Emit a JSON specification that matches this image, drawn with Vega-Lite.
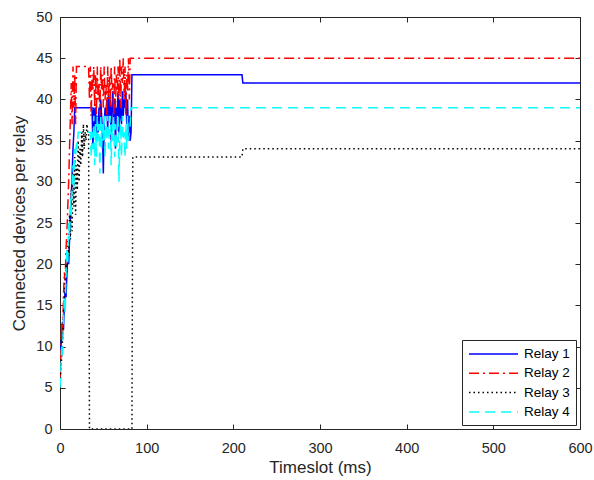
{
  "$schema": "https://vega.github.io/schema/vega-lite/v6.json",
  "width": 520,
  "height": 412,
  "autosize": {"type": "none"},
  "padding": {"left": 60, "top": 17, "right": 14, "bottom": 51},
  "background": "white",
  "config": {
    "font": "Liberation Sans",
    "view": {"stroke": "#262626", "strokeWidth": 1},
    "axis": {
      "grid": false,
      "domainColor": "#262626",
      "tickColor": "#262626",
      "labelColor": "#262626",
      "titleColor": "#262626",
      "labelFont": "Liberation Sans",
      "titleFont": "Liberation Sans",
      "labelFontSize": 14.5,
      "titleFontSize": 17,
      "titleFontWeight": "normal",
      "tickSize": -5
    }
  },
  "data": {"values": [
    {"t":0,"v":9,"r":"Relay 1"},{"t":1,"v":10,"r":"Relay 1"},{"t":2,"v":11,"r":"Relay 1"},{"t":3,"v":13,"r":"Relay 1"},{"t":4,"v":12,"r":"Relay 1"},{"t":5,"v":15,"r":"Relay 1"},{"t":6,"v":17,"r":"Relay 1"},{"t":7,"v":16,"r":"Relay 1"},{"t":8,"v":19,"r":"Relay 1"},{"t":9,"v":21,"r":"Relay 1"},{"t":10,"v":20,"r":"Relay 1"},{"t":11,"v":23,"r":"Relay 1"},{"t":12,"v":26,"r":"Relay 1"},{"t":13,"v":28,"r":"Relay 1"},{"t":14,"v":31,"r":"Relay 1"},{"t":15,"v":34,"r":"Relay 1"},{"t":16,"v":36,"r":"Relay 1"},{"t":17,"v":39,"r":"Relay 1"},{"t":37,"v":39,"r":"Relay 1"},{"t":38,"v":34,"r":"Relay 1"},{"t":39,"v":39,"r":"Relay 1"},{"t":40,"v":36,"r":"Relay 1"},{"t":41,"v":39,"r":"Relay 1"},{"t":42,"v":35,"r":"Relay 1"},{"t":43,"v":38,"r":"Relay 1"},{"t":44,"v":36,"r":"Relay 1"},{"t":45,"v":39,"r":"Relay 1"},{"t":46,"v":37,"r":"Relay 1"},{"t":47,"v":40,"r":"Relay 1"},{"t":48,"v":38,"r":"Relay 1"},{"t":49,"v":36,"r":"Relay 1"},{"t":50,"v":31,"r":"Relay 1"},{"t":51,"v":37,"r":"Relay 1"},{"t":52,"v":39,"r":"Relay 1"},{"t":53,"v":38,"r":"Relay 1"},{"t":54,"v":40,"r":"Relay 1"},{"t":55,"v":36,"r":"Relay 1"},{"t":56,"v":41,"r":"Relay 1"},{"t":57,"v":38,"r":"Relay 1"},{"t":58,"v":40,"r":"Relay 1"},{"t":59,"v":35,"r":"Relay 1"},{"t":60,"v":39,"r":"Relay 1"},{"t":61,"v":41,"r":"Relay 1"},{"t":62,"v":37,"r":"Relay 1"},{"t":63,"v":40,"r":"Relay 1"},{"t":64,"v":34,"r":"Relay 1"},{"t":65,"v":39,"r":"Relay 1"},{"t":66,"v":38,"r":"Relay 1"},{"t":67,"v":41,"r":"Relay 1"},{"t":68,"v":36,"r":"Relay 1"},{"t":69,"v":40,"r":"Relay 1"},{"t":70,"v":38,"r":"Relay 1"},{"t":71,"v":37,"r":"Relay 1"},{"t":72,"v":41,"r":"Relay 1"},{"t":73,"v":38,"r":"Relay 1"},{"t":74,"v":40,"r":"Relay 1"},{"t":75,"v":39,"r":"Relay 1"},{"t":76,"v":41,"r":"Relay 1"},{"t":77,"v":37,"r":"Relay 1"},{"t":78,"v":40,"r":"Relay 1"},{"t":79,"v":35,"r":"Relay 1"},{"t":80,"v":38,"r":"Relay 1"},{"t":81,"v":35,"r":"Relay 1"},{"t":82,"v":36,"r":"Relay 1"},{"t":83,"v":43,"r":"Relay 1"},{"t":210,"v":43,"r":"Relay 1"},{"t":211,"v":42,"r":"Relay 1"},{"t":600,"v":42,"r":"Relay 1"},

    {"t":0,"v":6,"r":"Relay 2"},{"t":1,"v":9,"r":"Relay 2"},{"t":2,"v":13,"r":"Relay 2"},{"t":3,"v":11,"r":"Relay 2"},{"t":4,"v":16,"r":"Relay 2"},{"t":5,"v":19,"r":"Relay 2"},{"t":6,"v":18,"r":"Relay 2"},{"t":7,"v":22,"r":"Relay 2"},{"t":8,"v":24,"r":"Relay 2"},{"t":9,"v":27,"r":"Relay 2"},{"t":10,"v":30,"r":"Relay 2"},{"t":11,"v":34,"r":"Relay 2"},{"t":12,"v":38,"r":"Relay 2"},{"t":13,"v":42,"r":"Relay 2"},{"t":14,"v":37,"r":"Relay 2"},{"t":15,"v":44,"r":"Relay 2"},{"t":16,"v":39,"r":"Relay 2"},{"t":17,"v":43,"r":"Relay 2"},{"t":18,"v":37,"r":"Relay 2"},{"t":19,"v":44,"r":"Relay 2"},{"t":33,"v":44,"r":"Relay 2"},{"t":34,"v":40,"r":"Relay 2"},{"t":35,"v":44,"r":"Relay 2"},{"t":36,"v":38,"r":"Relay 2"},{"t":37,"v":43,"r":"Relay 2"},{"t":38,"v":41,"r":"Relay 2"},{"t":39,"v":44,"r":"Relay 2"},{"t":40,"v":39,"r":"Relay 2"},{"t":41,"v":43,"r":"Relay 2"},{"t":42,"v":38,"r":"Relay 2"},{"t":43,"v":44,"r":"Relay 2"},{"t":44,"v":40,"r":"Relay 2"},{"t":45,"v":42,"r":"Relay 2"},{"t":46,"v":38,"r":"Relay 2"},{"t":47,"v":44,"r":"Relay 2"},{"t":48,"v":41,"r":"Relay 2"},{"t":49,"v":43,"r":"Relay 2"},{"t":50,"v":39,"r":"Relay 2"},{"t":51,"v":44,"r":"Relay 2"},{"t":52,"v":40,"r":"Relay 2"},{"t":53,"v":42,"r":"Relay 2"},{"t":54,"v":38,"r":"Relay 2"},{"t":55,"v":44,"r":"Relay 2"},{"t":56,"v":40,"r":"Relay 2"},{"t":57,"v":43,"r":"Relay 2"},{"t":58,"v":39,"r":"Relay 2"},{"t":59,"v":44,"r":"Relay 2"},{"t":60,"v":41,"r":"Relay 2"},{"t":61,"v":42,"r":"Relay 2"},{"t":62,"v":38,"r":"Relay 2"},{"t":63,"v":44,"r":"Relay 2"},{"t":64,"v":39,"r":"Relay 2"},{"t":65,"v":43,"r":"Relay 2"},{"t":66,"v":41,"r":"Relay 2"},{"t":67,"v":44,"r":"Relay 2"},{"t":68,"v":40,"r":"Relay 2"},{"t":69,"v":45,"r":"Relay 2"},{"t":70,"v":39,"r":"Relay 2"},{"t":71,"v":44,"r":"Relay 2"},{"t":72,"v":42,"r":"Relay 2"},{"t":73,"v":45,"r":"Relay 2"},{"t":74,"v":40,"r":"Relay 2"},{"t":75,"v":44,"r":"Relay 2"},{"t":76,"v":38,"r":"Relay 2"},{"t":77,"v":43,"r":"Relay 2"},{"t":78,"v":41,"r":"Relay 2"},{"t":79,"v":45,"r":"Relay 2"},{"t":80,"v":40,"r":"Relay 2"},{"t":81,"v":45,"r":"Relay 2"},{"t":600,"v":45,"r":"Relay 2"},

    {"t":0,"v":5,"r":"Relay 3"},{"t":1,"v":7,"r":"Relay 3"},{"t":2,"v":9,"r":"Relay 3"},{"t":3,"v":11,"r":"Relay 3"},{"t":4,"v":14,"r":"Relay 3"},{"t":5,"v":16,"r":"Relay 3"},{"t":6,"v":18,"r":"Relay 3"},{"t":7,"v":20,"r":"Relay 3"},{"t":8,"v":19,"r":"Relay 3"},{"t":9,"v":23,"r":"Relay 3"},{"t":10,"v":21,"r":"Relay 3"},{"t":11,"v":26,"r":"Relay 3"},{"t":12,"v":23,"r":"Relay 3"},{"t":13,"v":29,"r":"Relay 3"},{"t":14,"v":24,"r":"Relay 3"},{"t":15,"v":31,"r":"Relay 3"},{"t":16,"v":27,"r":"Relay 3"},{"t":17,"v":33,"r":"Relay 3"},{"t":18,"v":26,"r":"Relay 3"},{"t":19,"v":32,"r":"Relay 3"},{"t":20,"v":29,"r":"Relay 3"},{"t":21,"v":35,"r":"Relay 3"},{"t":22,"v":30,"r":"Relay 3"},{"t":23,"v":34,"r":"Relay 3"},{"t":24,"v":32,"r":"Relay 3"},{"t":25,"v":36,"r":"Relay 3"},{"t":26,"v":33,"r":"Relay 3"},{"t":27,"v":37,"r":"Relay 3"},{"t":28,"v":34,"r":"Relay 3"},{"t":29,"v":36,"r":"Relay 3"},{"t":30,"v":35,"r":"Relay 3"},{"t":31,"v":37,"r":"Relay 3"},{"t":32,"v":36,"r":"Relay 3"},{"t":33,"v":36,"r":"Relay 3"},{"t":34,"v":0,"r":"Relay 3"},{"t":83,"v":0,"r":"Relay 3"},{"t":84,"v":33,"r":"Relay 3"},{"t":210,"v":33,"r":"Relay 3"},{"t":211,"v":34,"r":"Relay 3"},{"t":600,"v":34,"r":"Relay 3"},

    {"t":0,"v":5,"r":"Relay 4"},{"t":1,"v":7,"r":"Relay 4"},{"t":2,"v":10,"r":"Relay 4"},{"t":3,"v":9,"r":"Relay 4"},{"t":4,"v":13,"r":"Relay 4"},{"t":5,"v":16,"r":"Relay 4"},{"t":6,"v":14,"r":"Relay 4"},{"t":7,"v":19,"r":"Relay 4"},{"t":8,"v":22,"r":"Relay 4"},{"t":9,"v":20,"r":"Relay 4"},{"t":10,"v":25,"r":"Relay 4"},{"t":11,"v":23,"r":"Relay 4"},{"t":12,"v":28,"r":"Relay 4"},{"t":13,"v":26,"r":"Relay 4"},{"t":14,"v":30,"r":"Relay 4"},{"t":15,"v":32,"r":"Relay 4"},{"t":16,"v":29,"r":"Relay 4"},{"t":17,"v":34,"r":"Relay 4"},{"t":18,"v":33,"r":"Relay 4"},{"t":19,"v":35,"r":"Relay 4"},{"t":20,"v":34,"r":"Relay 4"},{"t":21,"v":36,"r":"Relay 4"},{"t":35,"v":36,"r":"Relay 4"},{"t":36,"v":33,"r":"Relay 4"},{"t":37,"v":36,"r":"Relay 4"},{"t":38,"v":34,"r":"Relay 4"},{"t":39,"v":38,"r":"Relay 4"},{"t":40,"v":32,"r":"Relay 4"},{"t":41,"v":37,"r":"Relay 4"},{"t":42,"v":33,"r":"Relay 4"},{"t":43,"v":38,"r":"Relay 4"},{"t":44,"v":35,"r":"Relay 4"},{"t":45,"v":37,"r":"Relay 4"},{"t":46,"v":31,"r":"Relay 4"},{"t":47,"v":38,"r":"Relay 4"},{"t":48,"v":34,"r":"Relay 4"},{"t":49,"v":37,"r":"Relay 4"},{"t":50,"v":35,"r":"Relay 4"},{"t":51,"v":38,"r":"Relay 4"},{"t":52,"v":33,"r":"Relay 4"},{"t":53,"v":37,"r":"Relay 4"},{"t":54,"v":35,"r":"Relay 4"},{"t":55,"v":38,"r":"Relay 4"},{"t":56,"v":34,"r":"Relay 4"},{"t":57,"v":36,"r":"Relay 4"},{"t":58,"v":38,"r":"Relay 4"},{"t":59,"v":32,"r":"Relay 4"},{"t":60,"v":37,"r":"Relay 4"},{"t":61,"v":35,"r":"Relay 4"},{"t":62,"v":38,"r":"Relay 4"},{"t":63,"v":33,"r":"Relay 4"},{"t":64,"v":37,"r":"Relay 4"},{"t":65,"v":34,"r":"Relay 4"},{"t":66,"v":36,"r":"Relay 4"},{"t":67,"v":38,"r":"Relay 4"},{"t":68,"v":30,"r":"Relay 4"},{"t":69,"v":35,"r":"Relay 4"},{"t":70,"v":37,"r":"Relay 4"},{"t":71,"v":33,"r":"Relay 4"},{"t":72,"v":38,"r":"Relay 4"},{"t":73,"v":35,"r":"Relay 4"},{"t":74,"v":36,"r":"Relay 4"},{"t":75,"v":33,"r":"Relay 4"},{"t":76,"v":37,"r":"Relay 4"},{"t":77,"v":34,"r":"Relay 4"},{"t":78,"v":38,"r":"Relay 4"},{"t":79,"v":35,"r":"Relay 4"},{"t":80,"v":36,"r":"Relay 4"},{"t":81,"v":37,"r":"Relay 4"},{"t":82,"v":39,"r":"Relay 4"},{"t":600,"v":39,"r":"Relay 4"}
  ]},
  "layer": [
    {
      "mark": {"type": "line", "strokeWidth": 1.5, "clip": true},
      "encoding": {
        "x": {"field": "t", "type": "quantitative", "scale": {"domain": [0, 600], "nice": false},
              "axis": {"values": [0,100,200,300,400,500,600], "title": "Timeslot (ms)", "labelPadding": 17, "titlePadding": 5, "labelFlush": false}},
        "y": {"field": "v", "type": "quantitative", "scale": {"domain": [0, 50], "nice": false},
              "axis": {"values": [0,5,10,15,20,25,30,35,40,45,50], "title": "Connected devices per relay", "labelPadding": 13, "titlePadding": 7}},
        "color": {"field": "r", "type": "nominal",
                  "scale": {"domain": ["Relay 1","Relay 2","Relay 3","Relay 4"], "range": ["#0000ff","#ff0000","#000000","#00ffff"]},
                  "legend": {"orient": "none", "legendX": 402, "legendY": 323, "title": null, "strokeColor": "#262626", "fillColor": "white", "padding": 6, "symbolType": "M-1,0H6", "symbolSize": 196, "symbolStrokeWidth": 1.5, "labelFontSize": 13.5, "labelOffset": 40, "rowPadding": 4.3, "labelColor": "#000000", "labelFont": "Liberation Sans", "cornerRadius": 0}},
        "strokeDash": {"field": "r", "type": "nominal",
                  "scale": {"domain": ["Relay 1","Relay 2","Relay 3","Relay 4"], "range": [[1,0],[10,4,2,4],[1.5,3],[10,6]]},
                  "legend": {"orient": "none", "legendX": 402, "legendY": 323, "title": null, "strokeColor": "#262626", "fillColor": "white", "padding": 6, "symbolType": "M-1,0H6", "symbolSize": 196, "symbolStrokeWidth": 1.5, "labelFontSize": 13.5, "labelOffset": 40, "rowPadding": 4.3, "labelColor": "#000000", "labelFont": "Liberation Sans", "cornerRadius": 0}}
      }
    },
    {
      "mark": {"type": "line", "opacity": 0},
      "encoding": {
        "x": {"field": "t", "type": "quantitative", "axis": {"orient": "top", "values": [0,100,200,300,400,500,600], "labels": false, "title": null}},
        "y": {"field": "v", "type": "quantitative", "axis": {"orient": "right", "values": [0,5,10,15,20,25,30,35,40,45,50], "labels": false, "title": null}}
      }
    }
  ],
  "resolve": {"axis": {"x": "independent", "y": "independent"}}
}
